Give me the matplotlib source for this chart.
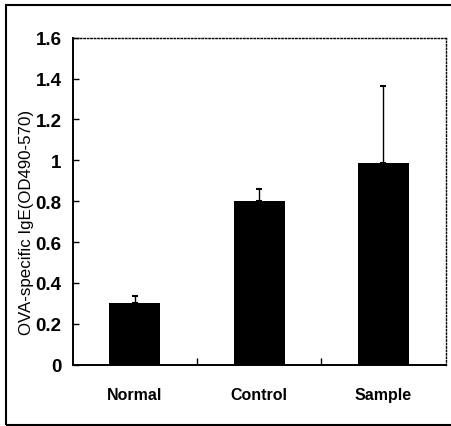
import matplotlib.pyplot as plt
import numpy as np
from matplotlib.patches import Rectangle

plt.rcParams['font.family'] = ['Liberation Sans', 'DejaVu Sans']

groups = ['Normal', 'Control', 'Sample']
means = [0.30, 0.80, 0.985]
errs = [0.036, 0.062, 0.38]
y_ticks = [0, 0.2, 0.4, 0.6, 0.8, 1, 1.2, 1.4, 1.6]
y_labels = ['0', '0.2', '0.4', '0.6', '0.8', '1', '1.2', '1.4', '1.6']


def main():
    fig = plt.figure(figsize=(4.51, 4.27), dpi=100)
    ax = fig.add_axes([0.161, 0.1436, 0.827, 0.7658])

    x = np.arange(len(groups)) + 0.5
    ax.bar(x, means, width=0.41, color='black', zorder=2)
    ax.errorbar(x, means, yerr=[np.zeros(len(errs)), errs], fmt='none',
                ecolor='black', elinewidth=1.0, capsize=2.5, capthick=1.5,
                zorder=3)

    ax.set_xlim(0, 3)
    ax.set_ylim(0, 1.6)

    # 刻度
    ax.set_yticks(y_ticks)
    ax.set_yticklabels(y_labels, fontsize=13.5, fontweight='bold')
    ax.tick_params(axis='y', direction='in', length=4, width=1, pad=8)
    ax.set_xticks(x)
    ax.set_xticklabels(groups, fontsize=11.5, fontweight='bold')
    ax.tick_params(axis='x', which='major', length=0, pad=16)
    ax.set_xticks([1, 2], minor=True)
    ax.tick_params(axis='x', which='minor', direction='in', length=5, width=1)

    for s in ['left', 'bottom']:
        ax.spines[s].set_linewidth(1.4)
    for s in ['top', 'right']:
        ax.spines[s].set_linestyle((0, (1, 1.5)))
        ax.spines[s].set_linewidth(1.0)
        ax.spines[s].set_color('black')

    ax.set_ylabel('OVA-specific IgE(OD490-570)', fontsize=12.2)
    ax.yaxis.set_label_coords(-0.104, 0.438)

    # 外框
    frame = Rectangle((6 / 451, 1 / 427), 1.0, 420 / 427, transform=fig.transFigure,
                      fill=False, edgecolor='black', linewidth=1.5, clip_on=False)
    fig.patches.append(frame)

    fig.savefig('out.png', dpi=100)


if __name__ == '__main__':
    main()
